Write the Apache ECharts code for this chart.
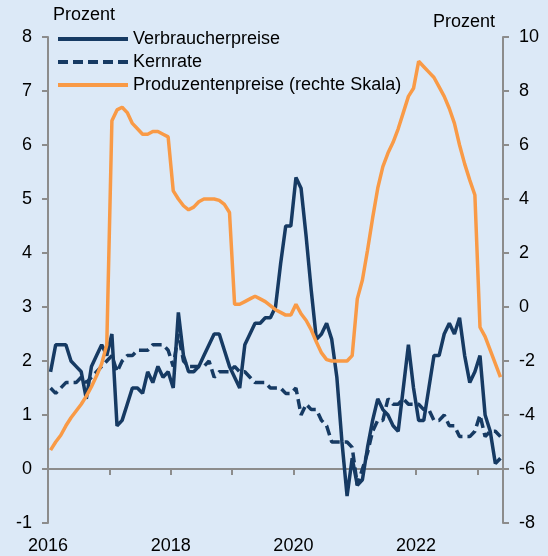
<!DOCTYPE html>
<html>
<head>
<meta charset="utf-8">
<script src="https://cdn.jsdelivr.net/npm/echarts@6/dist/echarts.min.js"></script>
<style>
	html, body { margin: 0; padding: 0; background: #dce9f7; }
	#plot { width: 548px; height: 556px; }
</style>
</head>
<body>
<div id="plot"></div>
<script>
// monthly values, Jan 2016 .. May 2023
const startYear = 2016;
const cpi = [
	1.8, 2.3, 2.3, 2.3, 2.0, 1.9, 1.8, 1.3, 1.9, 2.1, 2.3, 2.1,
	2.5, 0.8, 0.9, 1.2, 1.5, 1.5, 1.4, 1.8, 1.6, 1.9, 1.7, 1.8,
	1.5, 2.9, 2.1, 1.8, 1.8, 1.9, 2.1, 2.3, 2.5, 2.5, 2.2, 1.9,
	1.7, 1.5, 2.3, 2.5, 2.7, 2.7, 2.8, 2.8, 3.0, 3.8, 4.5, 4.5,
	5.4, 5.2, 4.3, 3.3, 2.4, 2.5, 2.7, 2.4, 1.7, 0.5, -0.5, 0.2,
	-0.3, -0.2, 0.4, 0.9, 1.3, 1.1, 1.0, 0.8, 0.7, 1.5, 2.3, 1.5,
	0.9, 0.9, 1.5, 2.1, 2.1, 2.5, 2.7, 2.5, 2.8, 2.1, 1.6, 1.8,
	2.1, 1.0, 0.7, 0.1, 0.2
];
const core = [
	1.5, 1.4, 1.5, 1.6, 1.6, 1.6, 1.7, 1.6, 1.7, 1.8, 1.9, 2.0,
	2.1, 1.8, 2.0, 2.1, 2.1, 2.2, 2.2, 2.2, 2.3, 2.3, 2.3, 2.2,
	1.9, 2.5, 2.0, 1.9, 1.9, 1.9, 1.9, 2.0, 1.7, 1.8, 1.8, 1.8,
	1.9, 1.8, 1.8, 1.7, 1.6, 1.6, 1.6, 1.5, 1.5, 1.5, 1.4, 1.4,
	1.5, 1.0, 1.2, 1.1, 1.1, 0.9, 0.8, 0.5, 0.5, 0.5, 0.5, 0.4,
	-0.3, 0.0, 0.3, 0.7, 0.9, 0.9, 1.3, 1.2, 1.2, 1.3, 1.2, 1.2,
	1.2, 1.1, 1.1, 0.9, 0.9, 1.0, 0.8, 0.8, 0.6, 0.6, 0.6, 0.7,
	1.0, 0.6, 0.7, 0.7, 0.6
];
const ppi = [
	-5.3, -5.0, -4.75, -4.4, -4.1, -3.85, -3.6, -3.3, -2.95, -2.55, -2.1, -1.4,
	6.9, 7.3, 7.4, 7.2, 6.8, 6.6, 6.4, 6.4, 6.5, 6.5, 6.4, 6.3,
	4.3, 4.0, 3.75, 3.6, 3.7, 3.9, 4.0, 4.0, 4.0, 3.95, 3.8, 3.5,
	0.1, 0.1, 0.2, 0.3, 0.4, 0.3, 0.2, 0.05, -0.1, -0.2, -0.3, -0.3,
	0.1, -0.25, -0.5, -0.85, -1.3, -1.7, -1.95, -2.0, -2.0, -2.0, -2.0, -1.8,
	0.3, 1.0, 2.1, 3.3, 4.4, 5.2, 5.7, 6.1, 6.6, 7.2, 7.8, 8.1,
	9.1, 8.9, 8.7, 8.5, 8.15, 7.8, 7.35, 6.8, 6.0, 5.3, 4.7, 4.15,
	-0.75, -1.1, -1.6, -2.1, -2.6
];
const yearTicks = [2016, 2017, 2018, 2019, 2020, 2021, 2022, 2023];
const yearLabels = [2016, 2018, 2020, 2022];
const names = ['Verbraucherpreise', 'Kernrate', 'Produzentenpreise (rechte Skala)'];

const navy = '#163a63';
const orange = '#f99a46';
const grey = '#8c8c8c';
const font = '"Liberation Sans", Arial, sans-serif';

// each month sits in the middle of its interval
function toPoints(values) {
	return values.map((v, i) => [startYear + (i + 0.5) / 12, v]);
}

function axisBase() {
	return {
		axisLine: { show: true, lineStyle: { color: grey, width: 2 } },
		axisTick: { show: true, length: 6, lineStyle: { color: grey, width: 2 } },
		splitLine: { show: false },
		axisLabel: { color: '#000', fontSize: 18, fontFamily: font }
	};
}

function plot() {
	const box = document.getElementById('plot');
	const chart = echarts.init(box);
	const xAxis = axisBase();
	xAxis.type = 'value';
	xAxis.min = 2016;
	xAxis.max = 2023 + 5 / 12;
	xAxis.axisTick.customValues = yearTicks;
	xAxis.axisLabel.customValues = yearLabels;
	xAxis.axisLabel.margin = 14;
	xAxis.axisLabel.formatter = (v) => String(Math.round(v));

	const yLeft = axisBase();
	yLeft.type = 'value';
	yLeft.min = -1;
	yLeft.max = 8;
	yLeft.interval = 1;
	yLeft.axisLabel.margin = 16;

	const yRight = axisBase();
	yRight.type = 'value';
	yRight.position = 'right';
	yRight.min = -8;
	yRight.max = 10;
	yRight.interval = 2;
	yRight.axisLabel.margin = 16;

	const option = {
		animation: false,
		backgroundColor: '#dce9f7',
		textStyle: { fontFamily: font },
		grid: { left: 48, right: 45, top: 37, bottom: 33, outerBoundsMode: 'none' },
		legend: {
			orient: 'vertical',
			left: 56,
			top: 30,
			padding: 0,
			itemWidth: 70,
			itemHeight: 14,
			itemGap: 5,
			data: names,
			textStyle: { color: '#000', fontSize: 18, fontFamily: font },
			lineStyle: { width: 4 },
			itemStyle: { opacity: 0 }
		},
		graphic: [
			{ type: 'text', left: 53, top: 6, style: { text: 'Prozent', fontSize: 18, fontFamily: font, fill: '#000' } },
			{ type: 'text', right: 53, top: 13, style: { text: 'Prozent', fontSize: 18, fontFamily: font, fill: '#000' } }
		],
		xAxis: xAxis,
		yAxis: [yLeft, yRight],
		series: [
			{
				name: names[0],
				type: 'line',
				showSymbol: false,
				symbol: 'none',
				data: toPoints(cpi),
				lineStyle: { color: navy, width: 3.5 },
				itemStyle: { color: navy }
			},
			{
				name: names[1],
				type: 'line',
				showSymbol: false,
				symbol: 'none',
				data: toPoints(core),
				lineStyle: { color: navy, width: 3.5, type: [10, 5] },
				itemStyle: { color: navy }
			},
			{
				name: names[2],
				type: 'line',
				yAxisIndex: 1,
				showSymbol: false,
				symbol: 'none',
				data: toPoints(ppi),
				lineStyle: { color: orange, width: 3.5 },
				itemStyle: { color: orange }
			}
		]
	};
	chart.setOption(option);
}

window.addEventListener('load', () => {
	plot();
});
</script>
</body>
</html>
